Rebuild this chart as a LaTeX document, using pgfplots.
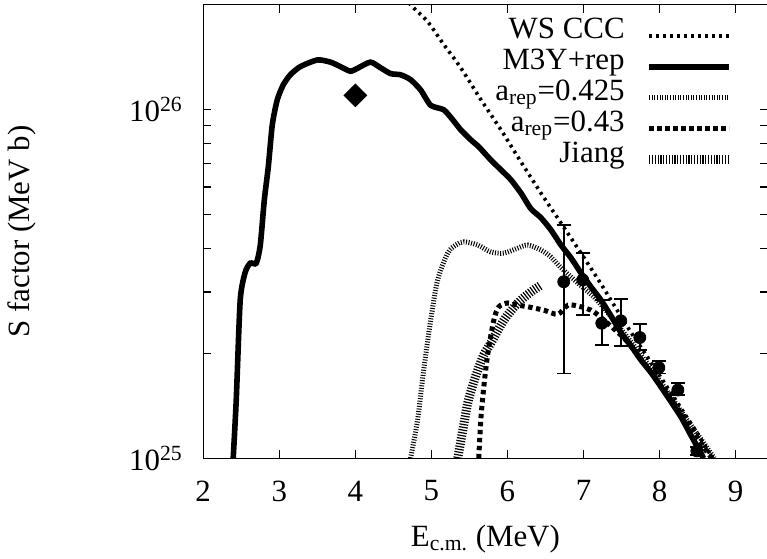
\documentclass[border=0pt]{standalone}
\usepackage{fontspec}
\setmainfont{Liberation Serif}
\usepackage{pgfplots}
\pgfplotsset{compat=1.18}
\begin{document}
\begin{tikzpicture}[font=\fontsize{15.5}{18.6}\selectfont]
\begin{semilogyaxis}[
  scale only axis, width=282bp, height=226.5bp,
  xmin=2, xmax=9.42, ymin=1e25, ymax=2e26,
  axis line style={line width=0.6bp},
  xtick={2,3,4,5,6,7,8,9}, xticklabels={2,3,4,5,6,7,8,9},
  ytick={1e25,1e26}, yticklabels={10\textsuperscript{25},10\textsuperscript{26}},
  minor ytick={2e25,3e25,4e25,5e25,6e25,7e25,8e25,9e25},
  major tick length=4bp, minor tick length=4bp,
  every tick/.style={black, line width=0.6bp},
  xticklabel style={anchor=north, inner sep=0pt, yshift=-11bp},
  yticklabel style={anchor=east, inner sep=0pt, xshift=-10bp},
  xlabel={E\textsubscript{c.m.} (MeV)},
  ylabel={S factor (MeV b)},
  xlabel style={at={(axis description cs:0.5,-0.178)}, anchor=center},
  ylabel style={at={(axis description cs:-0.321,0.5)}, anchor=center},
  legend plot pos=right,
  legend cell align=right,
  legend image code/.code={\draw[#1] (0bp,0bp) -- (40bp,0bp);},
  legend style={at={(axis description cs:0.94,0.966)}, anchor=north east,
    draw=none, fill=none, column sep=10bp, row sep=0pt, inner sep=0pt, outer sep=0pt,
    nodes={inner sep=0pt, outer sep=0pt, text height=9bp, text depth=6.5bp}},
]
% WS CCC
\addplot[black, line width=1.8bp, dash pattern=on 1.4bp off 2.1bp, smooth] coordinates {
(4.658,2.11e26) (4.727,2.00e26) (4.951,1.79e26) (5.162,1.54e26) (5.386,1.32e26)
(5.650,1.07e26) (5.913,8.77e25) (6.177,7.09e25) (6.440,5.77e25) (6.704,4.73e25)
(6.967,3.88e25) (7.231,3.16e25) (7.579,2.38e25) (7.882,1.89e25) (8.211,1.47e25)
(8.474,1.20e25) (8.697,1.00e25)
};
\addlegendentry{WS CCC}
% M3Y+rep
\addplot[black, line width=2.8bp, smooth, tension=0.4] coordinates {
(2.395,1.0e25) (2.435,1.47e25) (2.487,2.84e25) (2.553,3.42e25) (2.619,3.63e25)
(2.698,3.63e25) (2.751,4.09e25) (2.804,5.51e25) (2.856,6.85e25) (2.909,9.06e25)
(2.975,1.07e26) (3.054,1.18e26) (3.146,1.26e26) (3.278,1.33e26) (3.502,1.39e26)
(3.673,1.37e26) (3.805,1.33e26) (3.937,1.29e26) (4.042,1.32e26) (4.200,1.37e26)
(4.332,1.32e26) (4.464,1.27e26) (4.596,1.26e26) (4.727,1.22e26) (4.859,1.14e26)
(4.991,1.03e26) (5.162,1.00e26) (5.281,9.36e25) (5.386,8.76e25) (5.518,8.20e25)
(5.623,7.83e25) (5.781,7.18e25) (5.913,6.73e25) (6.045,6.30e25) (6.177,5.77e25)
(6.308,5.20e25) (6.440,4.90e25) (6.572,4.52e25) (6.704,4.09e25) (6.835,3.76e25)
(6.967,3.40e25) (7.099,3.10e25) (7.231,2.84e25) (7.362,2.56e25) (7.494,2.29e25)
(7.626,2.10e25) (7.758,1.91e25) (7.889,1.76e25) (8.021,1.60e25) (8.153,1.45e25)
(8.285,1.31e25) (8.416,1.16e25) (8.548,1.03e25) (8.575,1.0e25)
};
\addlegendentry{M3Y+rep}
% a_rep = 0.425
\addplot[black, line width=2.5bp, dash pattern=on 0.5bp off 0.8bp, smooth] coordinates {
(4.727,1.0e25) (4.819,1.29e25) (4.899,1.79e25) (4.991,2.49e25) (5.083,3.25e25)
(5.215,3.88e25) (5.320,4.09e25) (5.426,4.18e25) (5.610,4.09e25) (5.781,3.91e25)
(5.953,3.88e25) (6.137,4.01e25) (6.269,4.09e25) (6.440,3.96e25) (6.572,3.78e25)
(6.704,3.52e25) (6.928,3.18e25) (7.138,2.90e25) (7.323,2.61e25) (7.560,2.25e25)
(7.823,1.89e25) (8.087,1.57e25) (8.350,1.30e25) (8.614,1.08e25) (8.719,1.0e25)
};
\addlegendentry{a\textsubscript{rep}=0.425}
% a_rep = 0.43
\addplot[black, line width=2.5bp, dash pattern=on 2.2bp off 1.8bp, smooth] coordinates {
(5.623,1.0e25) (5.650,1.29e25) (5.689,1.60e25) (5.742,2.00e25) (5.821,2.49e25)
(5.887,2.72e25) (6.005,2.79e25) (6.137,2.75e25) (6.269,2.72e25) (6.480,2.66e25)
(6.664,2.59e25) (6.796,2.75e25) (6.967,2.72e25) (7.125,2.64e25) (7.296,2.46e25)
(7.560,2.18e25) (7.823,1.84e25) (8.087,1.54e25) (8.350,1.28e25) (8.614,1.05e25)
(8.693,1.0e25)
};
\addlegendentry{a\textsubscript{rep}=0.43}
% Jiang
\addplot[black, line width=4.5bp, dash pattern=on 0.6bp off 0.8bp, smooth] coordinates {
(5.346,1.0e25) (5.412,1.20e25) (5.478,1.44e25) (5.544,1.62e25) (5.610,1.79e25)
(5.689,1.98e25) (5.781,2.14e25) (5.953,2.49e25) (6.137,2.79e25) (6.308,3.00e25)
(6.440,3.14e25)
};
\addlegendentry{Jiang}
% diamond
\addplot[forget plot, only marks, black, mark=square*, mark size=4bp, mark options={rotate=45}] coordinates {(4.0,1.10e26)};
% data points
\addplot[forget plot, only marks, black, mark=*, mark size=3bp,
  error bars/.cd, y dir=both, y explicit, error mark=-,
  error bar style={line width=0.9bp}, error mark options={rotate=90, line width=0.9bp, mark size=3.5bp}]
  table[x=x, y=y, y error plus=ep, y error minus=em] {
x y ep em
6.74 3.21e25 1.46e25 1.46e25
6.99 3.25e25 0.63e25 0.67e25
7.24 2.44e25 0.40e25 0.33e25
7.49 2.48e25 0.38e25 0.38e25
7.74 2.22e25 0.21e25 0.18e25
7.99 1.82e25 0.08e25 0.07e25
8.24 1.57e25 0.07e25 0.05e25
8.49 1.05e25 0.03e25 0.03e25
};
\end{semilogyaxis}
\pgfresetboundingbox
\path (current axis.south west) ++(-101.5bp,-50bp) rectangle ([xshift=-0.3bp,yshift=2.5bp]current axis.north east);
\end{tikzpicture}
\end{document}
